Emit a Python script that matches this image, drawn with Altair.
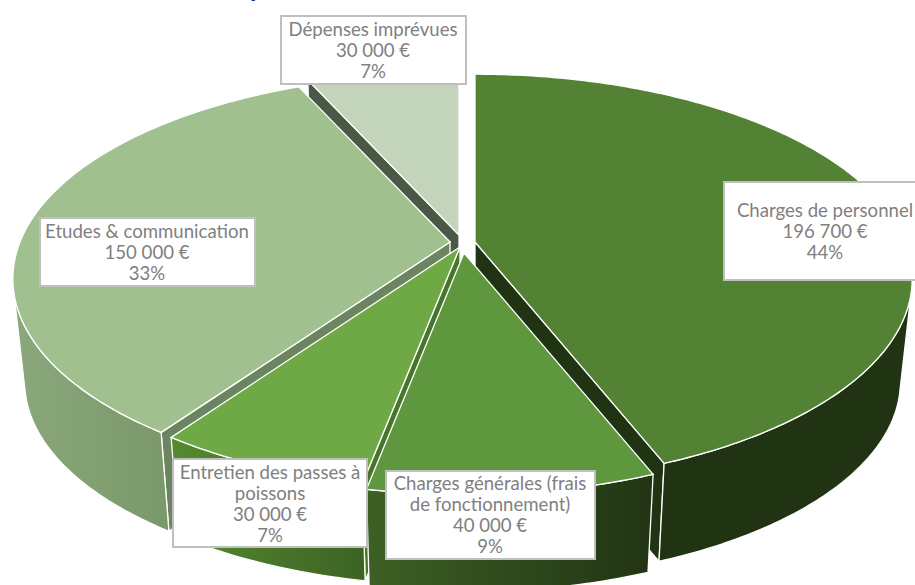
import math
import altair as alt
import pandas as pd

# Budget breakdown, in the order the slices run clockwise from twelve o'clock
categories = ["Charges de personnel", "Charges générales (frais\nde fonctionnement)",
              "Entretien des passes à\npoissons", "Etudes & communication", "Dépenses imprévues"]
amounts = [196700, 40000, 30000, 150000, 30000]
amount_labels = ["196 700 €", "40 000 €", "30 000 €", "150 000 €", "30 000 €"]
percent_labels = ["44%", "9%", "7%", "33%", "7%"]

# Tip of each pulled-out slice on the top face of the pie
apex_x = [475, 464, 460, 450, 459]
apex_y = [242, 253, 247, 242, 235]

top_fill = ["#548235", "#5f973e", "#6fa945", "#a0c08f", "#c2d5bb"]
cut_fill = ["#203312", "#2f4a1c", "#47752a", "#6b8560", "#4c5846"]
rim_stops = [("#203312", "#203312"), ("#3d6024", "#213414"), ("#558a31", "#3c6323"),
             ("#8aa87b", "#7a9869"), ("#8aa87b", "#7a9869")]

# Back-to-front drawing order of the slices
paint_order = [4, 0, 3, 2, 1]

# Box and text layout for the callouts
box_x0 = [724, 386, 173, 40, 281]
box_x1 = [925, 595, 367, 255, 466]
box_y0 = [182, 471, 459, 218, 16]
box_y1 = [280, 559, 547, 286, 84]
text_x = [825, 490, 270, 147, 373]
first_line_y = [211, 484, 473, 232, 30]

# Perspective of the tilted disc
RX, RY, TILT = 430.0, 198.0, 0.18
DEPTH, SHRINK = 104.0, 0.973


def project(apex, theta, bottom=False):
    u, v = math.sin(theta), math.cos(theta)
    s = 1.0 / (1.0 + TILT * v)
    dx, dy = RX * u * s, -RY * v * s
    if bottom:
        return [apex[0] + dx * SHRINK, apex[1] + dy * SHRINK + DEPTH]
    return [apex[0] + dx, apex[1] + dy]


def rim_faces_viewer(apex, theta):
    # The rim is visible where its tangent and the downward edge turn the same way
    eps = 1e-3
    p0, p1 = project(apex, theta - eps), project(apex, theta + eps)
    low = project(apex, theta, True)
    top = project(apex, theta)
    tx, ty = p1[0] - p0[0], p1[1] - p0[1]
    ex, ey = low[0] - top[0], low[1] - top[1]
    return tx * ey - ty * ex < 0


def cut_faces_viewer(apex, theta, mid_theta):
    # A cut shows when the slice's own top lies on the far side of the edge from "down"
    rim = project(apex, theta)
    mid = project(apex, mid_theta)
    ex, ey = rim[0] - apex[0], rim[1] - apex[1]
    side_mid = ex * (mid[1] - apex[1]) - ey * (mid[0] - apex[0])
    side_down = ex * DEPTH
    return side_mid * side_down < 0


def face(ring, fill):
    ring = ring + [ring[0]]
    feature = {"type": "Feature", "properties": {},
               "geometry": {"type": "Polygon", "coordinates": [ring]}}
    return (alt.Chart(alt.Data(values=[feature]))
            .mark_geoshape(fill=fill, stroke="white", strokeWidth=1.3, strokeJoin="miter")
            .project(type="identity", scale=1, translate=[0, 0]))


total = sum(amounts)
edges = [0.0]
for a in amounts:
    edges.append(edges[-1] + a / total * 2 * math.pi)

layers = []
for i in paint_order:
    apex = (apex_x[i], apex_y[i])
    a0, a1 = edges[i], edges[i + 1]
    n = max(2, int((a1 - a0) / math.radians(0.75)))
    thetas = [a0 + (a1 - a0) * k / n for k in range(n + 1)]

    # cut faces running from the tip to the rim
    apex_low = [apex[0], apex[1] + DEPTH]
    for t in (a0, a1):
        if cut_faces_viewer(apex, t, (a0 + a1) / 2):
            layers.append(face([list(apex), project(apex, t), project(apex, t, True), apex_low], cut_fill[i]))

    # curved outer wall, only where it turns toward the viewer, shaded left to right
    seen = [t for t in thetas if rim_faces_viewer(apex, t)]
    if len(seen) > 1:
        wall = [project(apex, t) for t in seen] + [project(apex, t, True) for t in reversed(seen)]
        shade = alt.Gradient(gradient="linear", x1=0, x2=1, y1=0, y2=0,
                             stops=[alt.GradientStop(color=rim_stops[i][0], offset=0),
                                    alt.GradientStop(color=rim_stops[i][1], offset=1)])
        layers.append(face(wall, shade))

    # top face
    layers.append(face([list(apex)] + [project(apex, t) for t in thetas], top_fill[i]))

labels = pd.DataFrame({
    "text": [f"{c}\n{a}\n{p}" for c, a, p in zip(categories, amount_labels, percent_labels)],
    "x0": box_x0, "x1": box_x1, "y0": box_y0, "y1": box_y1,
    "tx": text_x, "ty": first_line_y,
})

boxes = alt.Chart(labels).mark_rect(fill="white", stroke="#bfbfbf", strokeWidth=2).encode(
    x=alt.X("x0:Q", scale=None), x2="x1:Q",
    y=alt.Y("y0:Q", scale=None), y2="y1:Q",
)
texts = alt.Chart(labels).mark_text(
    font="Lato", fontSize=18.6, fontWeight=400, color="#808080",
    lineBreak="\n", lineHeight=21, align="center", baseline="middle",
).encode(
    x=alt.X("tx:Q", scale=None), y=alt.Y("ty:Q", scale=None), text="text:N",
)
# Descender of the heading that runs off the top edge
heading = alt.Chart(pd.DataFrame({"t": ["p"]})).mark_text(
    font="Lato", fontSize=26, fontWeight="bold", color="#1f3864", align="left", baseline="alphabetic",
).encode(x=alt.value(250), y=alt.value(-3), text="t:N")

chart = alt.layer(*layers, boxes, texts, heading).properties(
    width=915, height=585, padding=0, background="white",
    autosize=alt.AutoSizeParams(type="none"),
).configure_view(stroke=None)

chart.save("out.html", embed_options={"renderer": "svg", "actions": False})
